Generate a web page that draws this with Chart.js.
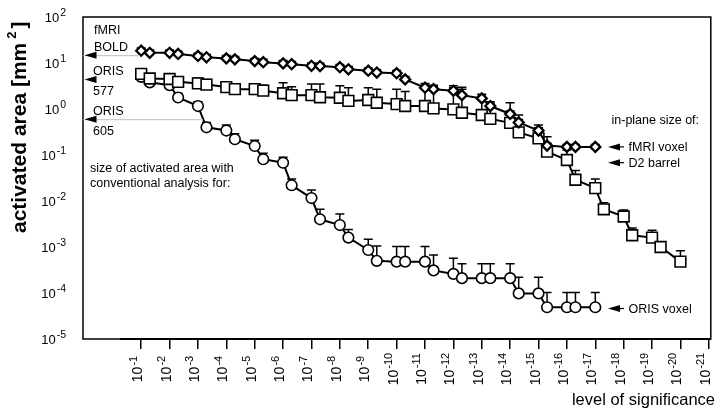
<!DOCTYPE html>
<html><head><meta charset="utf-8">
<script src="https://cdn.jsdelivr.net/npm/chart.js@4.4.0/dist/chart.umd.min.js"></script>
<style>html,body{margin:0;padding:0;background:#fff}#wrap{width:720px;height:411px;position:relative}</style>
</head><body><div id="wrap"><canvas id="c"></canvas></div>
<script>
// significance levels (x positions are -log10 of these)
const sigLevels = [1e-1,5e-2,1e-2,5e-3,1e-3,5e-4,1e-4,5e-5,1e-5,5e-6,1e-6,5e-7,1e-7,5e-8,1e-8,5e-9,1e-9,5e-10,1e-10,5e-11,1e-11,5e-12,1e-12,5e-13,1e-13,5e-14,1e-14,5e-15,1e-15,5e-16,1e-16,5e-17,1e-17,5e-18,1e-18,5e-19,1e-19,5e-20,1e-20];
// fMRI BOLD (diamonds)
const fmriBold    = [18.5,16.7,16.7,15.7,14.2,13.3,12.6,12.0,11.0,10.4,9.8,9.4,8.7,8.6,8.1,7.3,6.8,6.2,6.0,4.4,2.9,2.7,2.5,2.0,1.7,1.16,0.78,0.51,0.34,0.16,0.15,0.15,0.15];
const fmriBoldTop = [21.3,19.2,19.2,18.1,16.3,15.3,14.5,13.8,12.6,12.0,11.3,10.8,10.0,9.9,9.3,8.4,7.8,7.1,6.9,5.1,3.3,3.1,2.9,2.97,2.1,1.33,0.9,0.59,0.39,0.18,0.17,0.17,0.17];
// ORIS 577 (squares)
const oris577    = [5.8,4.6,4.5,3.9,3.6,3.4,3.0,2.7,2.7,2.5,2.2,2.0,2.0,1.8,1.76,1.5,1.57,1.37,1.28,1.16,1.16,1.03,0.98,0.83,0.74,0.61,0.50,0.31,0.23,0.118,0.078,0.029,0.019,0.0066,0.0046,0.0018,0.0016,0.0010,0.00048];
const oris577Top = [7.3,5.8,5.5,5.0,4.7,4.4,3.7,3.3,3.5,3.3,3.7,3.05,3.5,3.5,3.2,2.9,2.9,2.7,2.7,2.4,3.6,3.3,3.2,2.7,1.9,1.44,1.37,0.74,0.45,0.25,0.128,0.046,0.030,0.0092,0.0064,0.0026,0.0023,0.0013,0.00083];
// ORIS 605 (circles)
const oris605    = [5.0,3.8,3.3,1.78,1.16,0.40,0.34,0.22,0.157,0.081,0.068,0.022,0.0116,0.0040,0.0030,0.0016,0.00086,0.00050,0.00048,0.00048,0.00048,0.00031,0.00026,0.00021,0.00021,0.00021,0.00021,0.000098,0.000098,0.000049,0.000049,0.000049,0.000049];
const oris605Top = [5.5,4.3,3.8,2.2,1.44,0.51,0.45,0.29,0.21,0.109,0.089,0.030,0.0173,0.0066,0.0052,0.0024,0.00147,0.00105,0.00102,0.00102,0.00102,0.00067,0.00057,0.00043,0.00043,0.00043,0.00043,0.00022,0.00022,0.000102,0.000102,0.000102,0.000102];
// tick exponents
const xTickExps = [1,2,3,4,5,6,7,8,9,10,11,12,13,14,15,16,17,18,19,20,21];
const yTickExps = [2,1,0,-1,-2,-3,-4,-5];
// reference levels (arrows)
const leftRefValues = [14.8, 4.4, 0.6];
const leftRefLabels = [["fMRI","BOLD"],["ORIS","577"],["ORIS","605"]];
const rightRefValues = [0.15, 0.068, 4.6e-5];
const rightRefLabels = ["fMRI voxel","D2 barrel","ORIS voxel"];

const FONT = "'Liberation Sans', Arial, Helvetica, sans-serif";
const toPts = (vals) => vals.map((v,i) => ({x: -Math.log10(sigLevels[i]), y: v}));

const errorBars = {
  id: 'errorBars',
  beforeDatasetsDraw(chart) {
    const {ctx, scales:{x, y}} = chart;
    ctx.save();
    ctx.strokeStyle = '#000'; ctx.lineWidth = 1.5;
    chart.data.datasets.forEach(ds => {
      const tops = ds.tops;
      ds.data.forEach((p, i) => {
        const px = x.getPixelForValue(p.x);
        const y0 = y.getPixelForValue(p.y);
        const y1 = y.getPixelForValue(tops[i]);
        ctx.beginPath();
        ctx.moveTo(px, y0); ctx.lineTo(px, y1);
        ctx.moveTo(px - 4.5, y1); ctx.lineTo(px + 4.5, y1);
        ctx.stroke();
      });
    });
    ctx.restore();
  }
};

function leftArrow(ctx, xTip, yc) {
  ctx.beginPath();
  ctx.moveTo(xTip, yc); ctx.lineTo(xTip + 12, yc - 3.5); ctx.lineTo(xTip + 12, yc + 3.5);
  ctx.closePath(); ctx.fill();
}

const decor = {
  id: 'decor',
  afterDraw(chart) {
    const {ctx, chartArea: ca, scales:{x, y}} = chart;
    ctx.save();
    ctx.fillStyle = '#000'; ctx.strokeStyle = '#000';
    // frame
    ctx.lineWidth = 1.5;
    ctx.strokeRect(ca.left, ca.top, ca.right - ca.left, ca.bottom - ca.top);
    ctx.lineWidth = 2;
    ctx.beginPath(); ctx.moveTo(120, ca.bottom); ctx.lineTo(ca.right, ca.bottom); ctx.stroke();

    // y tick labels
    yTickExps.forEach(k => {
      const py = y.getPixelForValue(Math.pow(10, k));
      ctx.font = "10.5px " + FONT;
      const sup = String(k);
      const ws = ctx.measureText(sup).width;
      ctx.font = "13px " + FONT;
      const wb = ctx.measureText("10").width;
      const right = 66;
      ctx.textAlign = 'left'; ctx.textBaseline = 'alphabetic';
      ctx.fillText("10", right - ws - wb - 1, py + 4.7);
      ctx.font = "10.5px " + FONT;
      ctx.fillText(sup, right - ws, py - 1);
    });

    // x tick labels (rotated)
    xTickExps.forEach(n => {
      const px = x.getPixelForValue(n);
      ctx.save();
      ctx.translate(px + 1, 369);
      ctx.rotate(-Math.PI / 2);
      ctx.font = "14px " + FONT;
      const wb = ctx.measureText("10").width;
      ctx.font = "11px " + FONT;
      const sup = "-" + n;
      const ws = ctx.measureText(sup).width;
      const start = -(wb + ws + 1) / 2;
      ctx.textAlign = 'left'; ctx.textBaseline = 'alphabetic';
      ctx.font = "14px " + FONT;
      ctx.fillText("10", start, 0);
      ctx.font = "11px " + FONT;
      ctx.fillText(sup, start + wb + 1, -5.5);
      ctx.restore();
    });

    // y title
    ctx.save();
    ctx.translate(26, 233);
    ctx.rotate(-Math.PI / 2);
    ctx.textAlign = 'left';
    ctx.font = "bold 21px " + FONT;
    const t1 = "activated area [mm";
    const w1 = ctx.measureText(t1).width;
    ctx.fillText(t1, 0, 0);
    ctx.font = "bold 13px " + FONT;
    ctx.fillText("2", w1 + 4, -10);
    const w2 = ctx.measureText("2").width;
    ctx.font = "bold 21px " + FONT;
    ctx.fillText("]", w1 + 4 + w2 + 3, 0);
    ctx.restore();

    // x title
    ctx.font = "16.5px " + FONT;
    ctx.textAlign = 'right';
    ctx.fillText("level of significance", 715, 405);

    // left reference arrows
    ctx.textAlign = 'left';
    ctx.font = "12.5px " + FONT;
    const lineEnds = [140, null, 203];
    leftRefValues.forEach((v, i) => {
      const py = y.getPixelForValue(v);
      if (lineEnds[i]) {
        ctx.save();
        ctx.strokeStyle = '#bdbdbd'; ctx.lineWidth = 1;
        ctx.beginPath(); ctx.moveTo(ca.left, py + 0.5); ctx.lineTo(lineEnds[i], py + 0.5); ctx.stroke();
        ctx.restore();
      }
      leftArrow(ctx, ca.left + 1.5, py);
      const [a, b] = leftRefLabels[i];
      if (i === 0) {
        ctx.fillText(a, 94, py - 21);
        ctx.fillText(b, 94, py - 4);
      } else {
        ctx.fillText(a, 93, py - 4.5);
        ctx.fillText(b, 93, py + 16);
      }
    });

    // right reference arrows
    ctx.fillText("in-plane size of:", 611.5, 124);
    rightRefValues.forEach((v, i) => {
      const py = y.getPixelForValue(v);
      leftArrow(ctx, 608, py);
      ctx.lineWidth = 1.2;
      ctx.beginPath(); ctx.moveTo(619, py); ctx.lineTo(624, py); ctx.stroke();
      ctx.fillText(rightRefLabels[i], 628.5, py + 4.5);
    });

    // note
    ctx.fillText("size of activated area with", 90, 172);
    ctx.fillText("conventional analysis for:", 90, 187);
    ctx.restore();
  }
};

const common = {
  borderColor: '#000', borderWidth: 2, showLine: true, tension: 0,
  pointBackgroundColor: '#fff', pointBorderColor: '#000'
};

new Chart(document.getElementById('c'), {
  type: 'scatter',
  data: {
    datasets: [
      Object.assign({}, common, {label: 'fMRI BOLD', data: toPts(fmriBold), tops: fmriBoldTop,
        pointStyle: 'rectRot', pointRadius: 5, pointBorderWidth: 2.3}),
      Object.assign({}, common, {label: 'ORIS 577', data: toPts(oris577), tops: oris577Top,
        pointStyle: 'rect', pointRadius: 7.6, pointBorderWidth: 1.6}),
      Object.assign({}, common, {label: 'ORIS 605', data: toPts(oris605), tops: oris605Top,
        pointStyle: 'circle', pointRadius: 5.3, pointBorderWidth: 1.6})
    ]
  },
  options: {
    responsive: true, maintainAspectRatio: false, animation: false, devicePixelRatio: 1,
    layout: {padding: {left: 0, right: 3, top: 17, bottom: 0}},
    plugins: {legend: {display: false}, tooltip: {enabled: false}},
    scales: {
      x: {
        type: 'linear', min: -1.05, max: 21.07,
        afterBuildTicks: (s) => { s.ticks = xTickExps.map(v => ({value: v})); },
        afterFit: (s) => { s.height = 72; },
        ticks: {display: false},
        border: {display: false},
        grid: {display: true, drawOnChartArea: false, drawTicks: true, tickLength: 10, color: '#000', lineWidth: 1.5}
      },
      y: {
        type: 'logarithmic', min: 1e-5, max: 1e2,
        afterFit: (s) => { s.width = 83; },
        ticks: {display: false},
        border: {display: false},
        grid: {display: false}
      }
    }
  },
  plugins: [errorBars, decor]
});
</script>
</body></html>
